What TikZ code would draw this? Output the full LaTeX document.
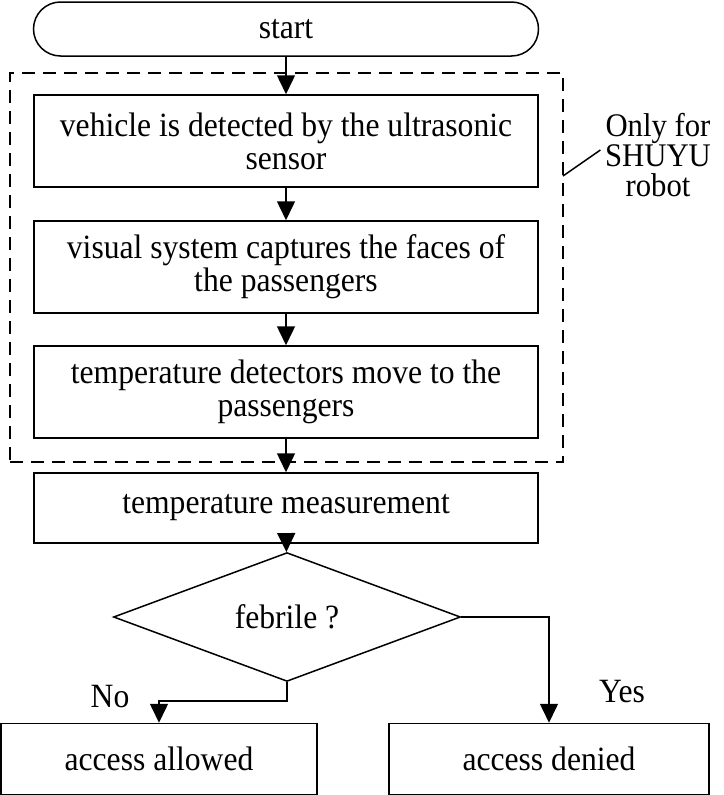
\documentclass[tikz,border=0pt]{standalone}
\usepackage{fontspec}
\setmainfont[FakeStretch=0.93]{Liberation Serif}
\usetikzlibrary{arrows.meta,shapes.geometric,positioning}

\begin{document}
\begin{tikzpicture}[x=1pt,y=-1pt,line width=1.5pt,
    >={Triangle[length=19pt,width=18pt]},
    every node/.style={font=\fontsize{34}{33}\selectfont,align=center,inner sep=0pt},
    stepbox/.style={draw,minimum width=504pt},
    decision/.style={draw,diamond,minimum width=347pt,minimum height=84pt}]
      \useasboundingbox (0,0) rectangle (723,795);

      \node[draw,rounded corners=27pt,minimum width=505pt,minimum height=54pt] (start) at (286,29) {start};
      \node[stepbox,minimum height=92pt] (detect) at (286,141) {vehicle is detected by the ultrasonic\\sensor};
      \node[stepbox,minimum height=92pt] (capture) at (286,267) {visual system captures the faces of\\the passengers};
      \node[stepbox,minimum height=92pt] (move) at (286,392) {temperature detectors move to the\\passengers};
      \node[stepbox,minimum height=70pt] (measure) at (286,508) {temperature measurement};
      \node[decision] (febrile) at (287,617) {febrile ?};
      \node[draw,minimum width=316pt,minimum height=71pt] (allowed) at (159,759) {access allowed};
      \node[draw,minimum width=320pt,minimum height=71pt] (denied) at (549,759) {access denied};

      \node[draw,dash pattern=on 13pt off 8pt,line width=2.4pt,minimum width=553pt,minimum height=389pt] (robot) at (286.5,267.5) {};
      \node[font=\fontsize{33}{30}\selectfont] (only) at (658,155) {Only for\\SHUYU\\robot};
      \coordinate (tag) at (563,176);
      \draw (tag) -- ([xshift=-4pt,yshift=5pt]only.west);

      \draw[->] (start) -- (detect);
      \draw[->] (detect) -- (capture);
      \draw[->] (capture) -- (move);
      \draw[->] (move) -- (measure);
      \draw[->] (measure) -- (febrile);
      \draw[->] (febrile.south) -- ++(0,19) -| (allowed.north);
      \draw[->] (febrile.east) -| (denied.north);

      \node (no) at (110,697) {No};
      \node (yes) at (622,692) {Yes};
\end{tikzpicture}
\end{document}
